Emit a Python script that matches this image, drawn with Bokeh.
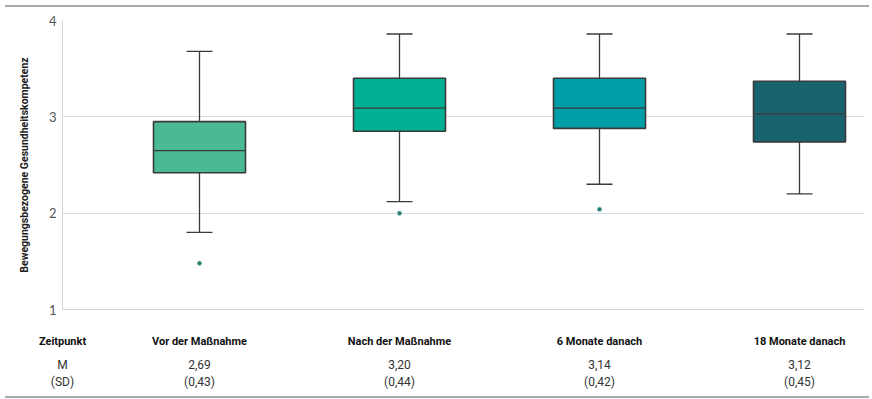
from bokeh.plotting import figure
from bokeh.models import Range1d, FixedTicker, Div, LinearAxis
from bokeh.layouts import column
from bokeh.embed import file_html
from bokeh.resources import INLINE

# ---- data ----
categories = ["Vor der Maßnahme", "Nach der Maßnahme", "6 Monate danach", "18 Monate danach"]
lower = [1.80, 2.12, 2.30, 2.20]
q1 = [2.42, 2.85, 2.88, 2.74]
median = [2.65, 3.09, 3.09, 3.03]
q3 = [2.95, 3.40, 3.40, 3.37]
upper = [3.68, 3.86, 3.86, 3.86]
outlier_group = [0, 1, 2]
outlier_value = [1.48, 2.00, 2.04]
means = ["2,69", "3,20", "3,14", "3,12"]
sds = ["(0,43)", "(0,44)", "(0,42)", "(0,45)"]
colors = ["#4bb896", "#00b092", "#009fa8", "#19636f"]
y_ticks = [1, 2, 3, 4]
row_head_label = "Zeitpunkt"
row_m_label = "M"
row_sd_label = "(SD)"

FONT = "Roboto"
W = 864
RULE = 2
H = 383 - 2 * RULE
LEFT, TOP = 62, 8
PX = 200.0

x_start = -(199 - LEFT) / PX
x_end = 3 + (W - 799) / PX

p = figure(width=W, height=H, output_backend="svg", toolbar_location=None,
           x_range=Range1d(x_start, x_end), y_range=Range1d(1, 4),
           x_axis_type=None, min_border_left=LEFT, min_border_right=0,
           min_border_top=TOP, min_border_bottom=0)
p.outline_line_color = None

ya = p.yaxis[0]
ya.ticker = FixedTicker(ticks=y_ticks)
ya.major_tick_line_color = None
ya.minor_tick_line_color = None
ya.major_tick_out = 0
ya.major_tick_in = 0
ya.axis_line_color = "#d3d3dc"
ya.major_label_text_color = "#555555"
ya.major_label_text_font = "Lato"
ya.major_label_text_font_size = "13px"
ya.major_label_standoff = 6
ya.axis_label = "Bewegungsbezogene Gesundheitskompetenz"
ya.axis_label_text_font = FONT
ya.axis_label_text_font_style = "bold"
ya.axis_label_text_font_size = "10.5px"
ya.axis_label_text_color = "#222222"
ya.axis_label_standoff = 15
p.ygrid.ticker = FixedTicker(ticks=y_ticks)
p.ygrid.grid_line_color = "#dcdce4"
p.xgrid.grid_line_color = None

idx = list(range(len(categories)))
bw = 0.46
cap = 0.065
edge = "#3a3a3a"

p.segment(x0=idx, x1=idx, y0=q3, y1=upper, line_color=edge, line_width=1.3)
p.segment(x0=idx, x1=idx, y0=q1, y1=lower, line_color=edge, line_width=1.3)
p.segment(x0=[i - cap for i in idx], x1=[i + cap for i in idx], y0=upper, y1=upper,
          line_color=edge, line_width=1.3)
p.segment(x0=[i - cap for i in idx], x1=[i + cap for i in idx], y0=lower, y1=lower,
          line_color=edge, line_width=1.3)
p.vbar(x=idx, width=bw, top=q3, bottom=q1, fill_color=colors, line_color=edge, line_width=1.6)
p.segment(x0=[i - bw / 2 for i in idx], x1=[i + bw / 2 for i in idx], y0=median, y1=median,
          line_color=edge, line_width=1.3)
p.scatter(x=outlier_group, y=outlier_value, size=4.5, fill_color="#1f7a70",
          line_color="#9fc9c0", line_width=0.8)

# ---- table rows under the chart as extra x axes ----
col0 = x_start + 1e-6
tick_pos = [col0] + idx


def table_axis(labels, standoff, bold, size, color, line_color=None):
    ax = LinearAxis(ticker=FixedTicker(ticks=tick_pos),
                    major_label_overrides={tick_pos[k]: labels[k] for k in range(len(labels))})
    ax.axis_line_color = line_color
    ax.major_tick_line_color = None
    ax.minor_tick_line_color = None
    ax.major_tick_out = 0
    ax.major_tick_in = 0
    ax.major_label_standoff = standoff
    ax.major_label_text_font = FONT
    ax.major_label_text_font_size = size
    ax.major_label_text_font_style = "bold" if bold else "normal"
    ax.major_label_text_color = color
    p.add_layout(ax, "below")


table_axis([row_head_label] + categories, 25, True, "11px", "#111111", "#d3d3dc")
table_axis([row_m_label] + means, 7, False, "12px", "#333333")
table_axis([row_sd_label] + sds, 0, False, "12px", "#333333")

top_rule = Div(width=W, height=RULE, styles={"background-color": "#a9a9a9"})
bottom_rule = Div(width=W, height=RULE, styles={"background-color": "#a9a9a9"})

layout = column(top_rule, p, bottom_rule, spacing=0)
open("out.html", "w").write(file_html(layout, INLINE))
